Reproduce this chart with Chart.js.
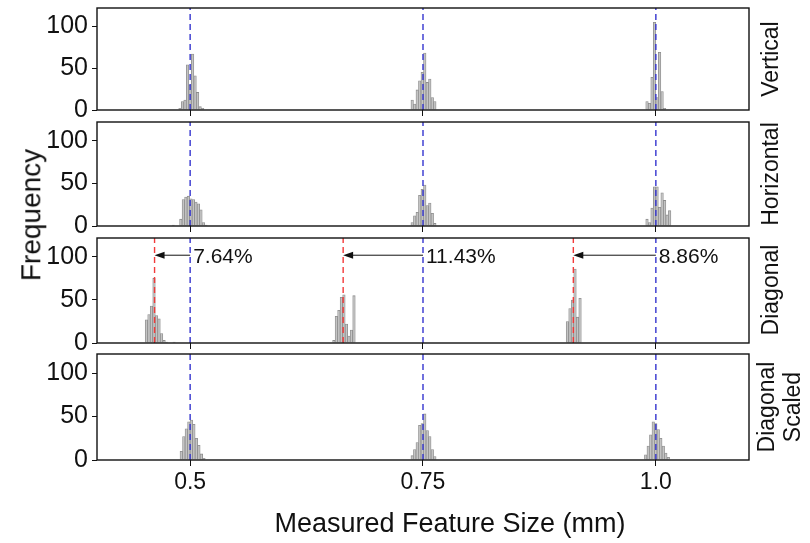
<!DOCTYPE html>
<html>
<head>
<meta charset="utf-8">
<script src="https://cdn.jsdelivr.net/npm/chart.js@4.4.1/dist/chart.umd.min.js"></script>
<style>
    body { margin: 0; background: #fff; }
    #wrap { position: relative; width: 810px; height: 543px; overflow: hidden; font-family: "Liberation Sans", Arial, sans-serif; color: #111; }
    .panel { position: absolute; left: 0; width: 810px; }
    .vlabel { position: absolute; white-space: nowrap; text-align: center; transform: translate(-50%, -50%) rotate(-90deg); line-height: 1.12; }
    .hlabel { position: absolute; white-space: nowrap; transform: translate(-50%, -50%); }
</style>
</head>
<body>
<div id="wrap">
    <div class="panel" style="top:4px;height:114px"><canvas id="p0" width="810" height="114"></canvas></div>
    <div class="panel" style="top:118px;height:116px"><canvas id="p1" width="810" height="116"></canvas></div>
    <div class="panel" style="top:234px;height:117px"><canvas id="p2" width="810" height="117"></canvas></div>
    <div class="panel" style="top:350px;height:193px"><canvas id="p3" width="810" height="193"></canvas></div>
    <div class="vlabel" style="left:31px;top:215px;font-size:28px">Frequency</div>
    <div class="hlabel" style="left:450px;top:523px;font-size:27px">Measured Feature Size (mm)</div>
    <div class="vlabel" style="left:771px;top:59px;font-size:23px">Vertical</div>
    <div class="vlabel" style="left:771px;top:174px;font-size:23px">Horizontal</div>
    <div class="vlabel" style="left:771px;top:290px;font-size:23px">Diagonal</div>
    <div class="vlabel" style="left:780px;top:407px;font-size:23px">Diagonal<br>Scaled</div>
</div>
<script>
// nominal feature sizes (mm) and axis ticks
const nominalSizes = [0.5, 0.75, 1.0];
const xTickLabels = ['0.5', '0.75', '1.0'];
const yTicks = [0, 50, 100];
const binWidth = 0.0027;

// histogram counts, one list per nominal size; starts are first bin centres
const verticalStarts = [0.4891, 0.7384, 0.9905];
const verticalCounts = [
    [2, 10, 12, 54, 30, 67, 41, 21, 4, 2],
    [12, 7, 24, 35, 45, 68, 33, 37, 15, 10],
    [10, 8, 39, 105, 15, 69, 22, 2]
];
const horizontalStarts = [0.4819, 0.7384, 0.9905];
const horizontalCounts = [
    [1, 0, 0, 8, 31, 34, 35, 32, 31, 28, 26, 19, 4, 1],
    [4, 12, 16, 36, 43, 48, 24, 27, 15, 3],
    [8, 4, 21, 46, 46, 22, 39, 30, 13, 18]
];
const diagonalStarts = [0.4531, 0.6543, 0.9051];
const diagonalCounts = [
    [27, 33, 43, 75, 32, 28, 11, 3, 1, 0, 0, 1],
    [3, 31, 38, 53, 56, 22, 8, 15, 55],
    [25, 40, 50, 86, 30, 52]
];
const scaledStarts = [0.4905, 0.7384, 0.9891];
const scaledCounts = [
    [10, 27, 36, 44, 46, 41, 25, 17, 7, 2],
    [5, 12, 20, 40, 42, 53, 34, 27, 12, 4],
    [6, 16, 29, 44, 42, 35, 25, 16, 8, 3]
];

// undersize of the diagonal features, percent of nominal
const diagonalShifts = [7.64, 11.43, 8.86];
const arrowLevel = 102;

const FONT = '"Liberation Sans", Arial, sans-serif';
const yMax = 122;

function histPoints(starts, counts) {
    const pts = [];
    starts.forEach((s, k) => {
        counts[k].forEach((c, i) => {
            if (c > 0) pts.push({ x: s + i * binWidth, y: c });
        });
    });
    return pts;
}

function vline(x, color) {
    return {
        type: 'line',
        data: [{ x: x, y: 0 }, { x: x, y: yMax }],
        borderColor: color,
        borderWidth: 1.4,
        borderDash: [6, 4],
        pointRadius: 0,
        order: 0
    };
}

// keep the plot boxes exactly where the canvases put them
function noScalePadding(s) {
    s.paddingTop = 0;
    s.paddingBottom = 0;
    s.paddingLeft = 0;
    s.paddingRight = 0;
}

// box around each panel
const framePlugin = {
    id: 'frame',
    afterDraw(chart) {
        const { ctx, chartArea: a } = chart;
        ctx.save();
        ctx.strokeStyle = '#111';
        ctx.lineWidth = 1.4;
        ctx.strokeRect(a.left, a.top, a.right - a.left, a.bottom - a.top);
        ctx.restore();
    }
};

// arrows + percent labels for the diagonal panel
const shiftPlugin = {
    id: 'shifts',
    afterDatasetsDraw(chart) {
        const { ctx, scales: { x, y } } = chart;
        const py = y.getPixelForValue(arrowLevel);
        ctx.save();
        diagonalShifts.forEach((pct, i) => {
            const x0 = x.getPixelForValue(nominalSizes[i]);
            const x1 = x.getPixelForValue(nominalSizes[i] * (1 - pct / 100));
            ctx.strokeStyle = '#111';
            ctx.fillStyle = '#111';
            ctx.lineWidth = 1;
            ctx.beginPath();
            ctx.moveTo(x0, py);
            ctx.lineTo(x1 + 8, py);
            ctx.stroke();
            ctx.beginPath();
            ctx.moveTo(x1, py);
            ctx.lineTo(x1 + 10, py - 3.5);
            ctx.lineTo(x1 + 10, py + 3.5);
            ctx.closePath();
            ctx.fill();
            ctx.font = '21px ' + FONT;
            ctx.textBaseline = 'middle';
            ctx.textAlign = 'left';
            ctx.fillText(pct.toFixed(2) + '%', x0 + 3, py + 2);
        });
        ctx.restore();
    }
};

const panels = [
    { id: 'p0', starts: verticalStarts, counts: verticalCounts },
    { id: 'p1', starts: horizontalStarts, counts: horizontalCounts },
    { id: 'p2', starts: diagonalStarts, counts: diagonalCounts, shifted: true },
    { id: 'p3', starts: scaledStarts, counts: scaledCounts, last: true }
];

panels.forEach(p => {
    const datasets = [{
        type: 'bar',
        data: histPoints(p.starts, p.counts),
        backgroundColor: '#c4c4c4',
        borderColor: '#8c8c8c',
        borderWidth: 0.8,
        barPercentage: 1,
        categoryPercentage: 1,
        order: 2
    }];
    nominalSizes.forEach(v => datasets.push(vline(v, '#3535cf')));
    if (p.shifted) {
        nominalSizes.forEach((v, i) => datasets.push(vline(v * (1 - diagonalShifts[i] / 100), '#f23a3a')));
    }

    new Chart(document.getElementById(p.id), {
        type: 'bar',
        data: { datasets: datasets },
        plugins: p.shifted ? [framePlugin, shiftPlugin] : [framePlugin],
        options: {
            responsive: false,
            animation: false,
            devicePixelRatio: 1,
            layout: { padding: { top: 4, right: 61, left: 0, bottom: 0 } },
            plugins: { legend: { display: false }, tooltip: { enabled: false } },
            scales: {
                x: {
                    type: 'linear',
                    min: 0.4,
                    max: 1.1,
                    offset: false,
                    afterBuildTicks: s => { s.ticks = nominalSizes.map(v => ({ value: v })); },
                    afterFit: s => { s.height = p.last ? 83 : 8; noScalePadding(s); },
                    ticks: {
                        display: !!p.last,
                        autoSkip: false,
                        maxRotation: 0,
                        padding: 3,
                        color: '#111',
                        font: { family: FONT, size: 23 },
                        callback: (v, i) => xTickLabels[i]
                    },
                    grid: { drawOnChartArea: false, drawTicks: true, tickLength: 6, color: '#111', offset: false },
                    border: { display: false }
                },
                y: {
                    min: 0,
                    max: yMax,
                    afterBuildTicks: s => { s.ticks = yTicks.map(v => ({ value: v })); },
                    afterFit: s => { s.width = 97; noScalePadding(s); },
                    ticks: { padding: 4, color: '#111', font: { family: FONT, size: 25 } },
                    grid: { drawOnChartArea: false, drawTicks: true, tickLength: 5, color: '#111' },
                    border: { display: false }
                }
            }
        }
    });
});
</script>
</body>
</html>
